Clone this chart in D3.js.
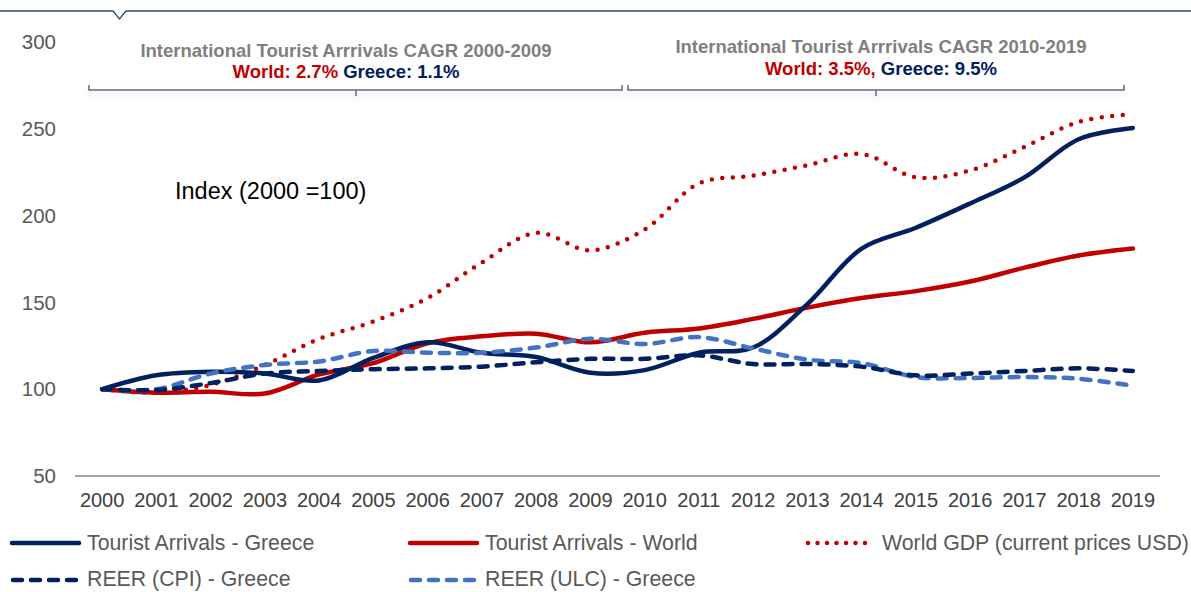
<!DOCTYPE html>
<html>
<head>
<meta charset="utf-8">
<script src="https://cdn.jsdelivr.net/npm/d3@7"></script>
<style>
  body { margin: 0; background: #fff; }
  text { font-family: "Liberation Sans", Arial, sans-serif; }
</style>
</head>
<body>
<script>
// years on the x axis
const years = d3.range(2000, 2020).map(String);
const yTicks = [50, 100, 150, 200, 250, 300];

// index values, 2000 = 100
const arrivalsGreece = [100, 108, 110, 109, 105, 118, 127, 121, 118.5, 109.5, 111, 121, 124, 149, 181, 193, 207, 222, 244, 250.5];
const arrivalsWorld = [100, 98, 98.5, 97.5, 108.5, 115, 126.5, 130.5, 132, 127, 132.5, 135, 140.5, 147, 152.5, 156.5, 162, 170, 177, 181];
const worldGdp = [100, 98, 102.5, 114, 129, 139, 152.5, 173, 190, 180, 192, 218.5, 223, 229, 235.5, 222, 226, 239.5, 254, 258.5];
const reerCpi = [100, 99.5, 103.5, 109, 110.5, 111.5, 112, 113, 115.5, 117.5, 117.5, 119.5, 114.5, 114.5, 113, 108, 109, 110.5, 112, 110.5];
const reerUlc = [100, 100, 109, 114, 116, 122, 121, 121, 124, 129, 126, 130, 123.5, 117, 115, 107, 106.5, 107, 106, 102];

const series = [
  { name: "Tourist Arrivals - Greece", values: arrivalsGreece, color: "#002060", dash: null },
  { name: "Tourist Arrivals - World", values: arrivalsWorld, color: "#C00000", dash: null },
  { name: "World GDP (current prices USD)", values: worldGdp, color: "#C00000", dash: "0,10.5" },
  { name: "REER (CPI) - Greece", values: reerCpi, color: "#002060", dash: "9,9" },
  { name: "REER (ULC) - Greece", values: reerUlc, color: "#4472C4", dash: "9,9" }
];
// drawing order (back to front)
const drawOrder = [2, 1, 0, 4, 3];

const width = 1191, height = 592;
const svg = d3.select("body").append("svg")
  .attr("width", width)
  .attr("height", height);

const x = d3.scaleBand().domain(years).range([75, 1160]);
const y = d3.scaleLinear().domain([50, 300]).range([476, 42]);
const cx = d => x(d) + x.bandwidth() / 2;

// top rule with notch
svg.append("path")
  .attr("d", "M0,11 L113,11 L119.5,19 L126,11 L1191,11")
  .attr("fill", "none")
  .attr("stroke", "#2E4A75")
  .attr("stroke-width", 1.3);

// y tick labels
svg.append("g")
  .selectAll("text")
  .data(yTicks)
  .join("text")
  .attr("x", 56)
  .attr("y", d => y(d))
  .attr("dy", "0.35em")
  .attr("text-anchor", "end")
  .attr("font-size", 20.5)
  .attr("fill", "#595959")
  .text(d => d);

// x axis
svg.append("line")
  .attr("x1", 75).attr("x2", 1160)
  .attr("y1", 476).attr("y2", 476)
  .attr("stroke", "#868686")
  .attr("stroke-width", 1.5);

svg.append("g")
  .selectAll("text")
  .data(years)
  .join("text")
  .attr("x", cx)
  .attr("y", 500)
  .attr("dy", "0.35em")
  .attr("text-anchor", "middle")
  .attr("font-size", 20)
  .attr("fill", "#404040")
  .text(d => d);

// brackets
const defs = svg.append("defs");
const f = defs.append("filter").attr("id", "sh").attr("x", "-5%").attr("y", "-50%").attr("width", "110%").attr("height", "300%");
f.append("feDropShadow").attr("dx", 0).attr("dy", 4).attr("stdDeviation", 2.5).attr("flood-color", "#000").attr("flood-opacity", 0.12);

svg.append("path")
  .attr("d", "M89,85 L89,90 L622,90 L622,85 M356,90 L356,96")
  .attr("fill", "none").attr("stroke", "#5B6B86").attr("stroke-width", 1.5)
  .attr("filter", "url(#sh)");
svg.append("path")
  .attr("d", "M628,85 L628,90 L1124,90 L1124,85 M876,90 L876,96")
  .attr("fill", "none").attr("stroke", "#5B6B86").attr("stroke-width", 1.5)
  .attr("filter", "url(#sh)");

const notes = [
  { cx: 346, title: "International Tourist Arrrivals CAGR 2000-2009", world: "World: 2.7%", greece: " Greece: 1.1%", ty: 57, ly: 78 },
  { cx: 881, title: "International Tourist Arrrivals CAGR 2010-2019", world: "World: 3.5%,", greece: " Greece: 9.5%", ty: 53, ly: 75 }
];
notes.forEach(n => {
  svg.append("text")
    .attr("x", n.cx).attr("y", n.ty)
    .attr("text-anchor", "middle")
    .attr("font-size", 18.5).attr("font-weight", "bold")
    .attr("fill", "#7F7F7F")
    .text(n.title);
  const t = svg.append("text")
    .attr("x", n.cx).attr("y", n.ly)
    .attr("text-anchor", "middle")
    .attr("font-size", 18.5).attr("font-weight", "bold");
  t.append("tspan").attr("fill", "#C00000").text(n.world);
  t.append("tspan").attr("fill", "#002060").text(n.greece);
});

svg.append("text")
  .attr("x", 175).attr("y", 199)
  .attr("font-size", 23.5)
  .attr("fill", "#000")
  .text("Index (2000 =100)");

// lines
const line = d3.line()
  .x((d, i) => cx(years[i]))
  .y(d => y(d))
  .curve(d3.curveCatmullRom.alpha(0.5));

svg.append("g")
  .selectAll("path")
  .data(drawOrder.map(i => series[i]))
  .join("path")
  .attr("d", d => line(d.values))
  .attr("fill", "none")
  .attr("stroke", d => d.color)
  .attr("stroke-width", 4.5)
  .attr("stroke-linecap", "round")
  .attr("stroke-linejoin", "round")
  .attr("stroke-dasharray", d => d.dash);

// legend
const legendPos = [[10, 543], [408, 543], [805, 543], [10, 580], [408, 580]];
const lg = svg.append("g")
  .selectAll("g")
  .data(series)
  .join("g")
  .attr("transform", (d, i) => `translate(${legendPos[i][0]},${legendPos[i][1]})`);

lg.append("line")
  .attr("x1", d => d.dash ? 3 : 2).attr("x2", d => d.dash === "0,10.5" ? 68 : 69)
  .attr("y1", 0).attr("y2", 0)
  .attr("stroke", d => d.color)
  .attr("stroke-width", 4.5)
  .attr("stroke-linecap", "round")
  .attr("stroke-dasharray", d => d.dash ? (d.dash === "0,10.5" ? "0,9.5" : "9,9") : null);

lg.append("text")
  .attr("x", 77)
  .attr("y", (d, i) => i < 3 ? 0 : -1.5)
  .attr("dy", "0.35em")
  .attr("font-size", 21.3)
  .attr("fill", "#595959")
  .text(d => d.name);
</script>
</body>
</html>
